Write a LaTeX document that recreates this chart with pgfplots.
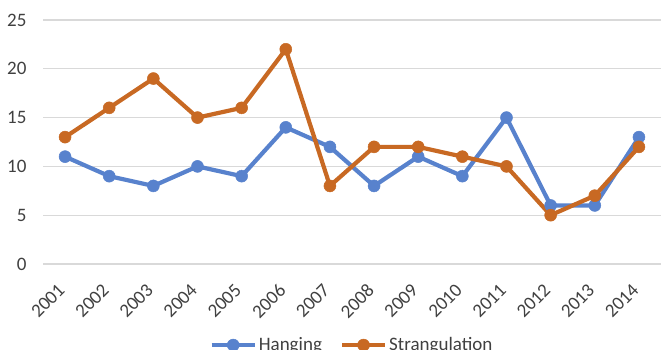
\documentclass[border=0pt]{standalone}
\usepackage{pgfplots}
\pgfplotsset{compat=1.18}
\usepackage{fontspec}
\setmainfont{Carlito}
\definecolor{hangblue}{RGB}{88,130,205}
\definecolor{strorange}{RGB}{200,105,35}
\definecolor{ticktext}{RGB}{64,64,64}
\definecolor{gridgray}{RGB}{217,217,217}
\begin{document}
\begin{tikzpicture}
\path[use as bounding box] (0,0) rectangle (661bp,350bp);
\begin{axis}[
  at={(43bp,86bp)}, anchor=south west,
  scale only axis, width=618bp, height=244bp,
  xmin=-0.5, xmax=13.5, ymin=0, ymax=25,
  xtick={0,...,13},
  xticklabels={2001,2002,2003,2004,2005,2006,2007,2008,2009,2010,2011,2012,2013,2014},
  ytick={0,5,10,15,20,25},
  axis line style={draw=none},
  major tick length=0pt,
  ymajorgrids, grid style={gridgray, line width=1.3bp},
  tick label style={font=\fontsize{19bp}{21bp}\selectfont, text=ticktext},
  yticklabel style={xshift=-13bp},
  xticklabel style={xshift=-8bp, yshift=-17bp, rotate=45, anchor=north east, inner sep=1bp},
  /pgf/number format/assume math mode=true,
  legend columns=2,
  legend style={draw=none, at={(0.5,-0.285)}, anchor=north,
    font=\fontsize{19bp}{21bp}\selectfont, text=ticktext,
    /tikz/every even column/.append style={column sep=16bp}},
  legend image code/.code={
    \draw[#1, mark=none] (0bp,0bp) -- (43bp,0bp);
    \path[#1] plot coordinates {(21.5bp,0bp)};
  },
  every axis plot/.append style={line width=4.2bp, mark=*, mark size=6bp, line join=round},
]
\addplot[hangblue, mark options={fill=hangblue, draw=hangblue, line width=0.5bp, solid}] coordinates {
  (0,11) (1,9) (2,8) (3,10) (4,9) (5,14) (6,12) (7,8) (8,11) (9,9) (10,15) (11,6) (12,6) (13,13)};
\addlegendentry{Hanging}
\addplot[strorange, mark options={fill=strorange, draw=strorange, line width=0.5bp, solid}] coordinates {
  (0,13) (1,16) (2,19) (3,15) (4,16) (5,22) (6,8) (7,12) (8,12) (9,11) (10,10) (11,5) (12,7) (13,12)};
\addlegendentry{Strangulation}
\end{axis}
\end{tikzpicture}
\end{document}
